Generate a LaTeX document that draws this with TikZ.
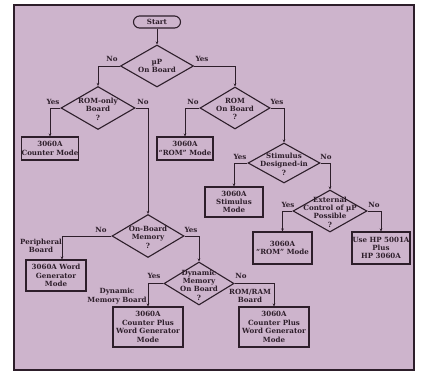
\documentclass[tikz,border=0pt]{standalone}
\usepackage{fontspec}
\setmainfont{DejaVu Serif}
\usetikzlibrary{shapes.geometric,arrows.meta}
\definecolor{bgpink}{RGB}{205,180,204}
\definecolor{ink}{RGB}{45,30,42}
\begin{document}
\begin{tikzpicture}[x=1pt,y=-1pt,
  font=\fontsize{7.1}{8.4}\selectfont\bfseries,
  every node/.append style={text=ink},
  box/.style={draw=ink,line width=1.1pt,fill=bgpink,align=center,inner sep=0pt},
  diam/.style={draw=ink,line width=1.1pt,diamond,inner sep=0pt,fill=bgpink},
  dtext/.style={align=center,inner sep=0pt},
  conn/.style={draw=ink,line width=0.8pt,-{Stealth[length=3pt,width=2.6pt]}},
  lab/.style={inner sep=0pt,align=center}]
\useasboundingbox (0,0) rectangle (422,375);
\fill[white] (0,0) rectangle (422,375);
\draw[ink,line width=1.3pt,fill=bgpink] (14,5) rectangle (414,370);

% start
\node[box,rounded corners=6pt,minimum width=47pt,minimum height=12pt] (start) at (157,22) {Start};

% diamonds
\node[diam,minimum width=73pt,minimum height=42pt] (d1) at (157,66) {};
\node[dtext] (d1t) at (157,66) {µP\\On Board};
\node[diam,minimum width=74pt,minimum height=43pt] (d2) at (98,108) {};
\node[dtext] (d2t) at (98,109) {ROM-only\\Board\\?};
\node[diam,minimum width=70pt,minimum height=42pt] (d3) at (235,108) {};
\node[dtext] (d3t) at (235,109) {ROM\\On Board\\?};
\node[diam,minimum width=72pt,minimum height=40pt] (d5) at (284,163) {};
\node[dtext] (d5t) at (284,164) {Stimulus\\Designed-in\\?};
\node[diam,minimum width=74pt,minimum height=42pt] (d6) at (330,211) {};
\node[dtext] (d6t) at (330,212) {External\\Control of µP\\Possible\\?};
\node[diam,minimum width=72pt,minimum height=43pt] (d4) at (148,236) {};
\node[dtext] (d4t) at (148,237) {On-Board\\Memory\\?};
\node[diam,minimum width=70pt,minimum height=43pt] (d7) at (199,283.5) {};
\node[dtext] (d7t) at (199,285) {Dynamic\\Memory\\On Board\\?};

% boxes
\node[box,minimum width=54pt,minimum height=23pt] (b1) at (50,148.5) {3060A\\Counter Mode};
\node[box,minimum width=56pt,minimum height=23pt] (b2) at (185,148.5) {3060A\\``ROM'' Mode};
\node[box,minimum width=58pt,minimum height=30pt] (b3) at (234,202) {3060A\\Stimulus\\Mode};
\node[box,minimum width=59pt,minimum height=32pt] (b4) at (282.5,248) {3060A\\``ROM'' Mode};
\node[box,minimum width=58pt,minimum height=32pt] (b5) at (381,248) {Use HP 5001A\\Plus\\HP 3060A};
\node[box,minimum width=60pt,minimum height=31pt] (b6) at (56,275.5) {3060A Word\\Generator\\Mode};
\node[box,minimum width=70pt,minimum height=40pt] (b7) at (148,327) {3060A\\Counter Plus\\Word Generator\\Mode};
\node[box,minimum width=70pt,minimum height=40pt] (b8) at (274,327) {3060A\\Counter Plus\\Word Generator\\Mode};

% connectors
\draw[conn] (start) -- (d1);
\draw[conn] (d1.west) -| (d2.north);
\draw[conn] (d1.east) -| (d3.north);
\draw[conn] (d2.west) -| (b1.north);
\draw[conn] (d2.east) -| (d4.north);
\draw[conn] (d3.west) -| (b2.north);
\draw[conn] (d3.east) -| (d5.north);
\draw[conn] (d5.west) -| (b3.north);
\draw[conn] (d5.east) -| (d6.north);
\draw[conn] (d6.west) -| (b4.north);
\draw[conn] (d6.east) -| (b5.north);
\draw[conn] (d4.west) -| ([xshift=6pt]b6.north);
\draw[conn] (d4.east) -| (d7.north);
\draw[conn] (d7.west) -| (b7.north);
\draw[conn] (d7.east) -| (b8.north);

% branch labels
\node[lab] (l1n) at (112,59) {No};
\node[lab] (l1y) at (202,59) {Yes};
\node[lab] (l2y) at (53,102) {Yes};
\node[lab] (l2n) at (143,102) {No};
\node[lab] (l3n) at (193,102) {No};
\node[lab] (l3y) at (277,102) {Yes};
\node[lab] (l5y) at (240,157) {Yes};
\node[lab] (l5n) at (326,157) {No};
\node[lab] (l6y) at (288,205) {Yes};
\node[lab] (l6n) at (374,205) {No};
\node[lab] (l4n) at (101,230) {No};
\node[lab] (l4y) at (191,230) {Yes};
\node[lab] (l7y) at (154,276) {Yes};
\node[lab] (l7n) at (241,276) {No};
\node[lab] (lper) at (41,246) {Peripheral\\Board};
\node[lab] (ldyn) at (117,296) {Dynamic\\Memory Board};
\node[lab] (lrom) at (250,296) {ROM/RAM\\Board};
\end{tikzpicture}
\end{document}
